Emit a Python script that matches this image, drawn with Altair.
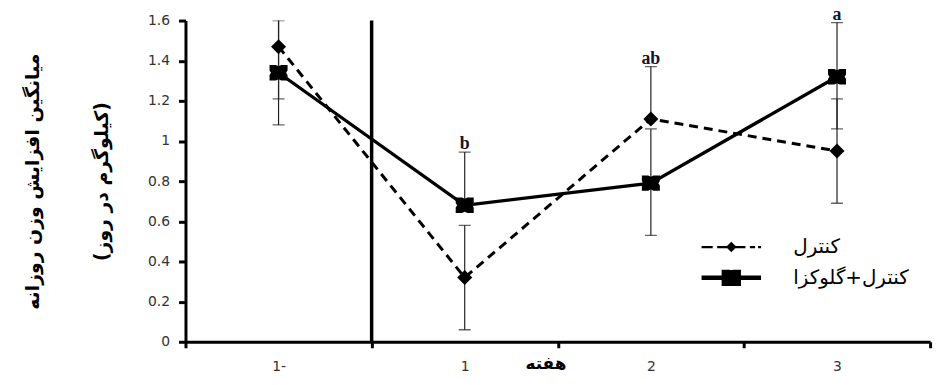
import altair as alt
import pandas as pd

weeks = ["1-", "1", "2", "3"]
series_names = ["کنترل", "کنترل+گلوکزا"]

control_mean = [1.47, 0.32, 1.11, 0.95]
control_low = [1.21, 0.06, 1.11, 0.69]
control_high = [1.73, 0.58, 1.37, 1.21]

gluc_mean = [1.34, 0.68, 0.79, 1.32]
gluc_low = [1.08, 0.68, 0.53, 1.06]
gluc_high = [1.60, 0.945, 1.06, 1.59]

letters = ["", "b", "ab", "a"]
y_ticks = [0, 0.2, 0.4, 0.6, 0.8, 1, 1.2, 1.4, 1.6]

y_title = ["میانگین افزایش وزن روزانه", "(کیلوگرم در روز)"]
x_title = "هفته"

rows = []
for name, m, lo, hi in [
    (series_names[0], control_mean, control_low, control_high),
    (series_names[1], gluc_mean, gluc_low, gluc_high),
]:
    for w, a, b, c in zip(weeks, m, lo, hi):
        rows.append({"week": w, "series": name, "legend": name,
                     "mean": a, "low": b, "high": c})
df = pd.DataFrame(rows)

lab_df = pd.DataFrame({
    "week": weeks,
    "letter": letters,
    "top": [min(max(a, b), 1.6) for a, b in zip(control_high, gluc_high)],
})
lab_df = lab_df[lab_df["letter"] != ""]

sep_df = pd.DataFrame({"week": ["1"]})


def star_path(hx, hy, n=0.3, d=0.12):
    # notched square marker (Excel-like star blob)
    pts = [
        (-hx, -hy), (-n * hx, -hy), (0, -hy * (1 - d)), (n * hx, -hy),
        (hx, -hy), (hx, -n * hy), (hx * (1 - d), 0), (hx, n * hy),
        (hx, hy), (n * hx, hy), (0, hy * (1 - d)), (-n * hx, hy),
        (-hx, hy), (-hx, n * hy), (-hx * (1 - d), 0), (-hx, -n * hy),
    ]
    return "M" + "L".join(f"{x:.3f},{y:.3f}" for x, y in pts) + "Z"


data_star = star_path(1.0, 0.85, n=0.3, d=0.16)
leg_control = ("M-2,0H-1.25M-0.95,0H0.95M1.25,0H1.6M1.8,0H2"
               "M0,-0.25L0.25,0L0,0.25L-0.25,0Z"
               "M0,-0.12L0.12,0L0,0.12L-0.12,0Z")
leg_gluc = ("M-2,0H2" + star_path(0.5, 0.4, d=0.2)
            + star_path(0.25, 0.2, d=0.0))

x_axis = alt.Axis(title=x_title, tickBand="extent", labelAngle=0,
                  labelPadding=12, titleY=14, titleX=363,
                  titleFont="DejaVu Sans", titleFontSize=17,
                  titleFontWeight="bold")
x_scale = alt.Scale(type="band", paddingInner=0, paddingOuter=0)
x_enc = alt.X("week:N", sort=weeks, scale=x_scale, axis=x_axis)

y_scale = alt.Scale(domain=[0, 1.6], nice=False)
y_axis = alt.Axis(title=y_title, values=y_ticks, format="~g",
                  titleFont="DejaVu Sans", titleFontSize=19,
                  titleFontWeight="bold", titleLineHeight=70,
                  titlePadding=36, labelPadding=9, tickSize=7)

base = alt.Chart(df)

lines_c = base.transform_filter(alt.datum.series == series_names[0]).mark_line(
    color="black", strokeWidth=3, strokeDash=[9, 6]
).encode(x=x_enc, y=alt.Y("mean:Q", scale=y_scale, axis=y_axis))

lines_g = base.transform_filter(alt.datum.series == series_names[1]).mark_line(
    color="black", strokeWidth=3.3
).encode(x=x_enc, y=alt.Y("mean:Q", scale=y_scale, axis=y_axis))

err = base.mark_rule(color="#222", strokeWidth=1.2, clip=True).encode(
    x=x_enc, y=alt.Y("low:Q", scale=y_scale, axis=y_axis), y2="high:Q"
)
cap_lo = base.transform_filter(alt.datum.low < alt.datum.mean).mark_tick(
    color="#222", size=12, thickness=1.3, clip=True
).encode(x=x_enc, y=alt.Y("low:Q", scale=y_scale, axis=y_axis))
cap_hi = base.mark_tick(color="#222", size=12, thickness=1.3, clip=True).encode(
    x=x_enc, y=alt.Y("high:Q", scale=y_scale, axis=y_axis)
)

pts_c = base.transform_filter(alt.datum.series == series_names[0]).mark_point(
    shape="diamond", filled=True, color="black", size=230, opacity=1
).encode(x=x_enc, y=alt.Y("mean:Q", scale=y_scale, axis=y_axis))

pts_g = base.transform_filter(alt.datum.series == series_names[1]).mark_point(
    shape=data_star, filled=True, color="black", size=330, opacity=1
).encode(x=x_enc, y=alt.Y("mean:Q", scale=y_scale, axis=y_axis))

leg = alt.Legend(title=None, orient="none", legendX=533, legendY=212,
                 symbolSize=900, labelOffset=45, rowPadding=3, padding=0,
                 labelFont="DejaVu Sans", labelFontSize=20, labelColor="black",
                 symbolStrokeColor="black", symbolOpacity=1, labelLimit=400)

legend_layer = base.mark_point(filled=False, color="black",
                               opacity=0).encode(
    x=x_enc,
    y=alt.Y("mean:Q", scale=y_scale, axis=y_axis),
    shape=alt.Shape("legend:N", scale=alt.Scale(domain=series_names,
                                                range=[leg_control, leg_gluc]),
                    legend=leg),
    strokeWidth=alt.StrokeWidth("legend:N",
                                scale=alt.Scale(domain=series_names,
                                                range=[2.2, 4.5]),
                                legend=leg),
)

sep = alt.Chart(sep_df).mark_rule(color="black", strokeWidth=3.5).encode(
    x=alt.X("week:N", sort=weeks, scale=x_scale, axis=x_axis, bandPosition=0),
    y=alt.datum(0),
    y2=alt.datum(1.6),
)

text = alt.Chart(lab_df).mark_text(
    font="Liberation Serif", fontWeight="bold", fontSize=18,
    color="#15152a", baseline="alphabetic", dy=-3
).encode(
    x=x_enc,
    y=alt.Y("top:Q", scale=y_scale, axis=y_axis),
    text="letter:N",
)

chart = alt.layer(
    sep, err, cap_lo, cap_hi, lines_c, lines_g, pts_c, pts_g, text,
    legend_layer
).properties(
    width=751, height=324,
    padding={"left": 179, "top": 11, "right": 11, "bottom": 50},
    autosize=alt.AutoSizeParams(type="none"),
).configure_view(stroke=None).configure_axis(
    grid=False, domainColor="black", domainWidth=3, tickColor="black",
    tickWidth=3, tickSize=6, labelFont="DejaVu Sans", labelFontSize=14,
    labelColor="#333", titleColor="black"
)

chart.save("out.html", embed_options={"renderer": "svg", "actions": False})
